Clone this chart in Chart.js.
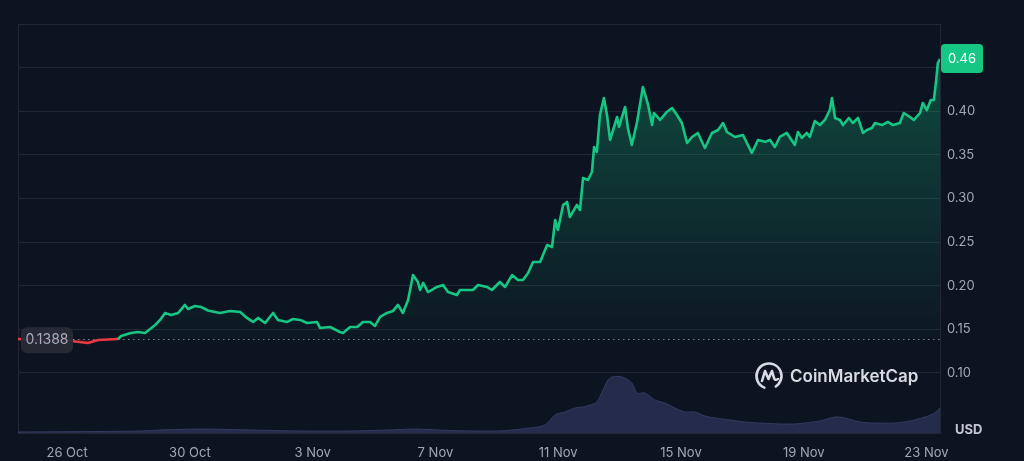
<!DOCTYPE html>
<html>
<head>
<meta charset="utf-8">
<script src="https://cdn.jsdelivr.net/npm/chart.js@4"></script>
<style>
  html, body { margin: 0; padding: 0; background: #0d1421; }
  #wrap { width: 1024px; height: 461px; }
</style>
</head>
<body>
<div id="wrap"><canvas id="chart" width="1024" height="461"></canvas></div>
<script>
// price at open of period
const base = 0.1388;

// day offsets from 26 Oct
const days = [
  -1.60, -1.04, 0.13, 0.68, 1.01, 1.34, 1.66, 1.76, 2.08, 2.31, 2.54, 2.87, 3.03, 3.19, 3.39, 3.62,
  3.84, 3.94, 4.17, 4.36, 4.59, 4.82, 4.98, 5.31, 5.64, 5.86, 6.06, 6.22, 6.45, 6.71, 6.87, 7.17,
  7.36, 7.59, 7.82, 8.14, 8.24, 8.57, 8.89, 8.99, 9.22, 9.45, 9.64, 9.87, 10.03, 10.20, 10.42, 10.62,
  10.78, 10.94, 11.11, 11.27, 11.43, 11.50, 11.60, 11.76, 12.05, 12.25, 12.41, 12.70, 12.80, 13.03,
  13.22, 13.39, 13.68, 13.84, 14.10, 14.27, 14.50, 14.69, 14.85, 15.02, 15.18, 15.41, 15.64, 15.80,
  15.90, 15.99, 16.16, 16.29, 16.38, 16.61, 16.71, 16.81, 16.97, 17.10, 17.17, 17.26, 17.36, 17.49,
  17.59, 17.69, 17.79, 17.92, 17.98, 18.18, 18.27, 18.40, 18.57, 18.76, 18.93, 19.06, 19.12, 19.32,
  19.54, 19.71, 19.87, 20.03, 20.20, 20.36, 20.55, 20.78, 21.01, 21.21, 21.37, 21.50, 21.76, 22.02,
  22.31, 22.51, 22.74, 22.90, 23.06, 23.22, 23.45, 23.71, 23.81, 23.94, 24.10, 24.20, 24.36, 24.53,
  24.69, 24.85, 24.92, 25.02, 25.18, 25.28, 25.47, 25.60, 25.77, 25.93, 26.06, 26.22, 26.32, 26.55,
  26.74, 26.91, 27.13, 27.26, 27.46, 27.59, 27.79, 27.88, 28.01, 28.14, 28.24, 28.31, 28.37, 28.44
];
const price = [
  0.1390, 0.1378, 0.1367, 0.1344, 0.1378, 0.1384, 0.1390, 0.1424, 0.1459, 0.1470, 0.1459, 0.1550, 0.1608, 0.1688, 0.1665, 0.1688,
  0.1780, 0.1734, 0.1768, 0.1757, 0.1716, 0.1699, 0.1688, 0.1711, 0.1699, 0.1631, 0.1585, 0.1631, 0.1573, 0.1688, 0.1608, 0.1585,
  0.1619, 0.1608, 0.1573, 0.1585, 0.1516, 0.1527, 0.1470, 0.1459, 0.1527, 0.1527, 0.1585, 0.1585, 0.1539, 0.1642, 0.1688, 0.1711,
  0.1780, 0.1688, 0.1837, 0.2123, 0.2043, 0.1951, 0.2032, 0.1928, 0.1986, 0.2009, 0.1928, 0.1894, 0.1951, 0.1951,
  0.1951, 0.2009, 0.1986, 0.1951, 0.2043, 0.1986, 0.2123, 0.2066, 0.2066, 0.2146, 0.2272, 0.2272, 0.2467, 0.2444,
  0.2754, 0.2639, 0.2926, 0.2960, 0.2788, 0.2926, 0.2868, 0.3235, 0.3212, 0.3304, 0.3590, 0.3533, 0.3957, 0.4152,
  0.3957, 0.3671, 0.3785, 0.3934, 0.3820, 0.4049, 0.3808, 0.3613, 0.3877, 0.4278, 0.4072, 0.3842, 0.3980, 0.3900,
  0.3992, 0.4037, 0.3957, 0.3865, 0.3636, 0.3705, 0.3751, 0.3579, 0.3751, 0.3785, 0.3865, 0.3762, 0.3705, 0.3728,
  0.3522, 0.3671, 0.3649, 0.3671, 0.3590, 0.3705, 0.3751, 0.3613, 0.3762, 0.3694, 0.3751, 0.3705, 0.3888, 0.3842,
  0.3900, 0.4014, 0.4152, 0.3923, 0.3900, 0.3842, 0.3923, 0.3865, 0.3923, 0.3751, 0.3785, 0.3808, 0.3865, 0.3842,
  0.3877, 0.3842, 0.3865, 0.3980, 0.3934, 0.3900, 0.3980, 0.4095, 0.4014, 0.4129, 0.4129, 0.4335, 0.4553, 0.4600
];

// volume (relative units)
const volDays = [
  -1.60, 1.07, 2.38, 3.03, 4.33, 5.96, 7.59, 9.22, 10.52, 11.34, 12.48, 14.10, 15.08, 15.57, 15.90, 16.22,
  16.55, 16.81, 17.04, 17.26, 17.46, 17.62, 17.75, 18.08, 18.40, 18.57, 18.83, 19.15, 19.48, 19.80, 20.13,
  20.46, 20.78, 21.11, 21.60, 22.08, 22.57, 23.22, 23.71, 24.04, 24.53, 25.02, 25.34, 25.83, 26.32, 26.97,
  27.46, 27.95, 28.27, 28.44
];
const volume = [
  1, 1.5, 2, 3, 4, 3, 2, 2, 3, 4, 2.5, 2, 5, 8, 18, 21,
  25, 26, 28, 31, 43, 53, 56, 56, 50, 40, 40, 33, 30, 25, 21,
  21, 17, 15, 13, 11, 10, 9, 9, 10, 12, 16, 15, 11, 10, 10,
  12, 16, 20, 25
];

const tickDays = [0, 4, 8, 12, 16, 20, 24, 28];
const tickLabels = ["26 Oct", "30 Oct", "3 Nov", "7 Nov", "11 Nov", "15 Nov", "19 Nov", "23 Nov"];
const priceTicks = [0.10, 0.15, 0.20, 0.25, 0.30, 0.35, 0.40, 0.45, 0.50];

const green = "#16c784";
const red = "#ea3943";
const font = "Inter, 'Noto Sans', sans-serif";

function roundBox(c, x, y, w, h, r) {
  c.beginPath();
  c.moveTo(x + r, y);
  c.arcTo(x + w, y, x + w, y + h, r);
  c.arcTo(x + w, y + h, x, y + h, r);
  c.arcTo(x, y + h, x, y, r);
  c.arcTo(x, y, x + w, y, r);
  c.closePath();
}

const overlay = {
  id: "overlay",
  beforeDatasetsDraw(chart) {
    const c = chart.ctx, a = chart.chartArea, ys = chart.scales.y;
    const by = Math.round(ys.getPixelForValue(base)) + 0.5;
    c.save();
    // left frame line
    c.strokeStyle = "#222733";
    c.lineWidth = 1;
    c.beginPath();
    c.moveTo(a.left + 0.5, a.top);
    c.lineTo(a.left + 0.5, a.bottom);
    c.stroke();
    // baseline dots
    c.strokeStyle = "#7d8391";
    c.setLineDash([1.5, 3.5]);
    c.beginPath();
    c.moveTo(a.left, by);
    c.lineTo(a.right, by);
    c.stroke();
    c.restore();
  },
  afterDraw(chart) {
    const c = chart.ctx, a = chart.chartArea, ys = chart.scales.y;
    c.save();
    c.textBaseline = "middle";
    c.textAlign = "center";
    c.font = "14px " + font;

    // open price tag
    const by = ys.getPixelForValue(base);
    roundBox(c, a.left + 3, by - 12, 52, 26, 6);
    c.fillStyle = "rgba(38,43,54,0.92)";
    c.fill();
    c.fillStyle = "#a6acba";
    c.fillText(base.toFixed(4), a.left + 29, by + 1);

    // last price tag
    c.font = "13px " + font;
    const last = price[price.length - 1];
    const ly = ys.getPixelForValue(last);
    roundBox(c, a.right + 1, ly - 15, 42, 29, 4);
    c.fillStyle = green;
    c.fill();
    c.fillStyle = "#ffffff";
    c.fillText(last.toFixed(2), a.right + 22, ly);

    // currency
    c.font = "bold 13px " + font;
    c.fillStyle = "#c3c7d1";
    c.textAlign = "left";
    c.fillText("USD", a.right + 15, a.bottom - 3);

    // watermark
    const lx = 769, ly2 = 376;
    c.strokeStyle = "#d8dbe2";
    c.lineWidth = 2.6;
    c.lineCap = "round";
    c.lineJoin = "round";
    c.beginPath();
    c.arc(lx, ly2, 12.5, Math.PI * 0.62, Math.PI * 0.38 + Math.PI * 2 - 0.2);
    c.stroke();
    c.beginPath();
    c.moveTo(lx - 7, ly2 + 5);
    c.lineTo(lx - 4, ly2 - 5);
    c.lineTo(lx - 0.5, ly2 + 3);
    c.lineTo(lx + 3, ly2 - 5);
    c.lineTo(lx + 5, ly2 + 2);
    c.quadraticCurveTo(lx + 6, ly2 + 5, lx + 9, ly2 + 3);
    c.stroke();
    c.font = "600 17px " + font;
    c.fillStyle = "#d8dbe2";
    c.fillText("CoinMarketCap", 790, 377);
    c.restore();
  }
};

const chart = new Chart(document.querySelector("#chart").getContext("2d"), {
  type: "line",
  data: {
    datasets: [
      {
        label: "Price",
        data: price.map((p, i) => ({ x: days[i], y: p })),
        yAxisID: "y",
        order: 1,
        borderWidth: 2.6,
        pointRadius: 0,
        tension: 0,
        borderJoinStyle: "round",
        borderColor: green,
        segment: {
          borderColor: (ctx) => ((ctx.p0.parsed.y + ctx.p1.parsed.y) / 2 < base ? red : green)
        },
        backgroundColor: (ctx) => {
          const ch = ctx.chart;
          if (!ch.chartArea) return "rgba(22,199,132,0.15)";
          const ys = ch.scales.y;
          const g = ch.ctx.createLinearGradient(0, ys.getPixelForValue(0.46), 0, ys.getPixelForValue(base));
          g.addColorStop(0, "rgba(22,199,132,0.30)");
          g.addColorStop(1, "rgba(22,199,132,0.02)");
          return g;
        },
        fill: { target: { value: base }, below: "rgba(234,57,67,0.08)" }
      },
      {
        label: "Volume",
        data: volume.map((v, i) => ({ x: volDays[i], y: v })),
        yAxisID: "vol",
        order: 2,
        borderWidth: 1,
        borderColor: "#333b62",
        backgroundColor: "#242b4b",
        pointRadius: 0,
        tension: 0.3,
        fill: "origin"
      }
    ]
  },
  options: {
    responsive: false,
    animation: false,
    layout: { padding: { left: 18, top: 24, right: 0, bottom: 0 } },
    plugins: {
      legend: { display: false },
      tooltip: { enabled: false }
    },
    scales: {
      x: {
        type: "linear",
        min: -1.6,
        max: 28.44,
        afterBuildTicks: (axis) => { axis.ticks = tickDays.map((v) => ({ value: v })); },
        afterFit: (axis) => { axis.height = 28; },
        grid: { display: false, drawTicks: false },
        border: { display: true, color: "#222733" },
        ticks: {
          padding: 12,
          maxRotation: 0,
          autoSkip: false,
          color: "#a1a7b6",
          font: { family: font, size: 13 },
          callback: (v) => tickLabels[tickDays.indexOf(v)]
        }
      },
      y: {
        position: "right",
        min: 0.0312,
        max: 0.5,
        afterBuildTicks: (axis) => { axis.ticks = priceTicks.map((v) => ({ value: v })); },
        afterFit: (axis) => { axis.width = 84; },
        grid: { color: "#222733", drawTicks: false },
        border: { display: true, color: "#222733" },
        ticks: {
          padding: 7,
          color: "#a1a7b6",
          font: { family: font, size: 13 },
          callback: (v) => (v < 0.42 ? v.toFixed(2) : "")
        }
      },
      vol: {
        display: false,
        min: 0,
        max: 409
      }
    }
  },
  plugins: [overlay]
});
</script>
</body>
</html>
